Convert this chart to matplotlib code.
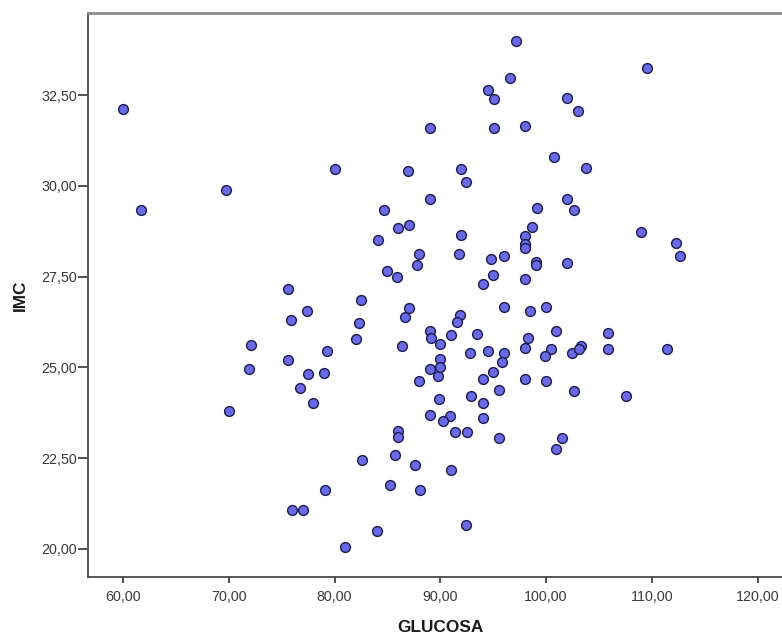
import matplotlib
matplotlib.use("Agg")
import matplotlib.pyplot as plt
from matplotlib.ticker import FuncFormatter, FixedLocator

plt.rcParams['font.family'] = ['Liberation Sans', 'DejaVu Sans']

# Glucose (mg/dl) and body-mass index for each subject
glucosa = [
    60.0, 61.67, 69.72, 80.0, 88.98, 86.9, 88.98, 84.69, 85.99, 87.0,
    84.09, 87.97, 87.78, 85.0, 85.88, 75.58, 82.49, 97.12, 109.5, 96.59,
    94.51, 95.10, 101.97, 103.0, 95.10, 98.0, 100.78, 103.76, 91.98, 92.39,
    101.97, 102.6, 99.17, 98.63, 98.0, 98.0, 98.0, 92.0, 91.79, 108.97,
    112.32, 112.70, 94.84, 95.98, 99.02, 99.02, 101.97, 94.99, 93.99, 98.0,
    77.38, 75.89, 87.0, 86.68, 82.33, 82.07, 88.98, 89.08, 72.08, 71.89,
    79.30, 86.35, 75.64, 77.47, 78.99, 76.77, 78.0, 88.98, 87.97, 89.8,
    89.9, 70.0, 88.98, 85.99, 85.99, 82.58, 85.7, 87.59, 85.29, 88.07,
    79.08, 75.98, 77.03, 84.0, 80.97, 90.0, 90.0, 90.0, 90.91, 90.27,
    91.37, 92.48, 91.0, 92.42, 91.0, 95.98, 98.47, 99.98, 91.88, 91.60,
    93.49, 100.96, 105.88, 98.28, 92.78, 94.48, 95.98, 95.85, 98.0, 100.49,
    99.86, 102.48, 103.27, 103.14, 105.88, 111.47, 95.0, 94.0, 98.0, 99.98,
    95.57, 102.6, 107.59, 92.9, 94.0, 94.0, 95.57, 101.53, 100.90,
]
imc = [
    32.13, 29.34, 29.88, 30.46, 31.59, 30.42, 29.64, 29.33, 28.84, 28.91,
    28.51, 28.13, 27.83, 27.65, 27.48, 27.16, 26.86, 33.98, 33.25, 32.98,
    32.64, 32.38, 32.42, 32.05, 31.59, 31.64, 30.80, 30.48, 30.46, 30.10,
    29.63, 29.33, 29.38, 28.87, 28.62, 28.39, 28.28, 28.65, 28.13, 28.72,
    28.44, 28.08, 28.00, 28.08, 27.91, 27.82, 27.89, 27.55, 27.30, 27.43,
    26.55, 26.30, 26.64, 26.40, 26.23, 25.77, 26.01, 25.80, 25.63, 24.96,
    25.46, 25.60, 25.21, 24.83, 24.84, 24.43, 24.02, 24.96, 24.64, 24.77,
    24.14, 23.80, 23.68, 23.24, 23.09, 22.45, 22.58, 22.30, 21.76, 21.62,
    21.62, 21.07, 21.07, 20.50, 20.06, 25.64, 25.23, 25.00, 23.65, 23.52,
    23.23, 23.23, 22.18, 20.65, 25.90, 26.67, 26.56, 26.67, 26.44, 26.26,
    25.91, 26.01, 25.96, 25.81, 25.39, 25.44, 25.39, 25.15, 25.53, 25.50,
    25.32, 25.39, 25.58, 25.52, 25.50, 25.50, 24.88, 24.68, 24.68, 24.64,
    24.39, 24.34, 24.22, 24.21, 24.03, 23.61, 23.05, 23.07, 22.76,
]

x_ticks = [60, 70, 80, 90, 100, 110, 120]
y_ticks = [20.0, 22.5, 25.0, 27.5, 30.0, 32.5]

W, H = 782, 636
fig = plt.figure(figsize=(W / 100, H / 100), dpi=100)
fig.patch.set_facecolor('white')

left, right, top, bottom = 88, 798, 12.7, 577.3
ax = fig.add_axes([left / W, (H - bottom) / H, (right - left) / W, (bottom - top) / H])

ax.scatter(glucosa, imc, s=50, facecolor='#6a6ae6', edgecolor='#1c1c4e',
           linewidth=1.0, zorder=3)

ax.set_xlim(56.69, 123.82)
ax.set_ylim(19.22, 34.77)

comma = FuncFormatter(lambda v, p: f"{v:.2f}".replace('.', ','))
ax.xaxis.set_major_locator(FixedLocator(x_ticks))
ax.yaxis.set_major_locator(FixedLocator(y_ticks))
ax.xaxis.set_major_formatter(comma)
ax.yaxis.set_major_formatter(comma)

ax.tick_params(axis='x', direction='out', length=4.5, width=1.2, color='#333333',
               labelsize=10.3, labelcolor='#3a3a3a', pad=5)
ax.tick_params(axis='y', direction='out', length=7, width=1.2, color='#333333',
               labelsize=10.3, labelcolor='#3a3a3a', pad=1)

for side in ('left', 'bottom'):
    ax.spines[side].set_color('#4a4a4a')
    ax.spines[side].set_linewidth(1.3)
ax.spines['top'].set_color('#8c8c8c')
ax.spines['top'].set_linewidth(2.0)
ax.spines['right'].set_visible(False)

ax.set_xlabel('GLUCOSA', fontsize=12.4, fontweight='bold', color='#1a1a1a')
ax.set_ylabel('IMC', fontsize=12.4, fontweight='bold', color='#1a1a1a')
ax.xaxis.label.set_va('baseline')
ax.yaxis.label.set_va('center')
aw, ah = right - left, bottom - top
ax.xaxis.set_label_coords((440 - left) / aw, -(631.5 - bottom) / ah)
ax.yaxis.set_label_coords((20 - left) / aw, 0.5)

fig.savefig('out.png', dpi=100, facecolor='white')
